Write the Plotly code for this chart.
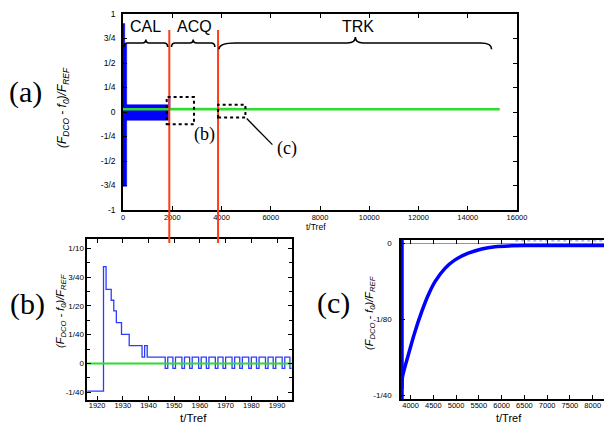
import plotly.graph_objects as go

W, H = 604, 425

# ---------------- data: panel (a) ----------------
a_xticks = [0, 2000, 4000, 6000, 8000, 10000, 12000, 14000, 16000]
a_xticktext = ['0', '2000', '4000', '6000', '8000', '10000', '12000', '14000', '16000']
a_yticks = [-1, -0.75, -0.5, -0.25, 0, 0.25, 0.5, 0.75, 1]
a_yticktext = ['-1', '-3/4', '-1/2', '-1/4', '0', '1/4', '1/2', '3/4', '1']

cal_spike_t = [0, 150]
cal_spike_range = [-0.758, 0.698]
cal_peak_t = [0, 70]
cal_peak_range = [0.0, 0.902]
cal_band_t = [0, 1850]
cal_band_range = [-0.085, 0.075]
acq_spike_t = [1880, 1880]
acq_spike_v = [0.017, 0.147]
acq_trace_t = [1880, 4600]
acq_trace_v = [0.036, 0.036]
ref_a_t = [0, 15300]
ref_a_v = [0.028, 0.028]
phase_edges = [1880, 3860]
brace_names = ['CAL', 'ACQ', 'TRK']
brace_spans = [(40, 1815), (1970, 3730), (3900, 14970)]
box_b = (1775, 2883, -0.126, 0.153)
box_c = (3862, 4971, -0.057, 0.075)
leader_t = [5024, 6068]
leader_v = [-0.067, -0.333]

# ---------------- data: panel (b) ----------------
b_t = [1916, 1922.5, 1923.5, 1925.5, 1926.5, 1927.5, 1929.5, 1932.5, 1937.5,
       1938.5, 1939.5,
       1946.5, 1947.5, 1949.5, 1950.5, 1953, 1954, 1956, 1957, 1959.5, 1960.5,
       1962.5, 1963.5, 1966, 1967, 1969, 1970, 1972.5, 1973.5, 1975.5, 1976.5,
       1979, 1980, 1982, 1983, 1985.5, 1986.5, 1988.5, 1989.5, 1992, 1993,
       1995, 1996]
b_v = [-0.024, 0.084, 0.0644, 0.0549, 0.0456, 0.0354, 0.0253, 0.0155, 0.0056,
       0.0155, 0.0056,
       -0.0042, 0.0056, -0.0042, 0.0056, -0.0042, 0.0056, -0.0042, 0.0056,
       -0.0042, 0.0056, -0.0042, 0.0056, -0.0042, 0.0056, -0.0042, 0.0056,
       -0.0042, 0.0056, -0.0042, 0.0056, -0.0042, 0.0056, -0.0042, 0.0056,
       -0.0042, 0.0056, -0.0042, 0.0056, -0.0042, 0.0056, -0.0042, 0.0056]
b_ref_t = [1916, 1996]
b_ref_v = [0.0, 0.0]
b_xticks = [1920, 1930, 1940, 1950, 1960, 1970, 1980, 1990]
b_yticks = [-0.025, 0, 0.025, 0.05, 0.075, 0.1]
b_yticktext = ['-1/40', '0', '1/40', '1/20', '3/40', '1/10']
b_minor = [-0.0125, 0.0125, 0.0375, 0.0625, 0.0875]

# ---------------- data: panel (c) ----------------
c_jump_t = [3812, 3812]
c_jump_v = [-0.0257, 0.0006]
c_t = [3812, 3819, 3950, 4097, 4245, 4389, 4537, 4756, 4976, 5268, 5562, 5854,
       6221, 6513, 7000, 7500, 8250]
c_v = [-0.0240, -0.0222, -0.0184, -0.01455, -0.01125, -0.0085, -0.0063, -0.0041,
       -0.0027, -0.0016, -0.0009, -0.00053, -0.00038, -0.00033, -0.00033,
       -0.00033, -0.00033]
c_noise_t = [6300, 8250]
c_noise_v = [0.00045, 0.00045]
c_ref_t = [3790, 8250]
c_ref_v = [0.0, 0.0]
c_xticks = [4000, 4500, 5000, 5500, 6000, 6500, 7000, 7500, 8000]
c_xticktext = ['4000', '4500', '5000', '5500', '6000', '6500', '7000', '7500', '8000']
c_yticks = [-0.025, -0.0125, 0]
c_yticktext = ['-1/40', '-1/80', '0']
c_rticks = [0, -1/280, -2/280, -3/280, -4/280, -5/280, -6/280, -7/280]

BLUE = '#0000ff'
GREEN = '#2edc2e'
RED = '#ff3c14'
SANS = 'Liberation Sans, Arial, sans-serif'
SERIF = 'Liberation Serif, Times New Roman, serif'


def px(xp):
    return xp / W


def py(yp):
    return 1 - yp / H


def rect(t, r):
    return [t[0], t[1], t[1], t[0], t[0]], [r[0], r[0], r[1], r[1], r[0]]


fig = go.Figure()

# panel (a) traces
for tt, rr in [(cal_band_t, cal_band_range), (cal_spike_t, cal_spike_range), (cal_peak_t, cal_peak_range)]:
    x, y = rect(tt, rr)
    fig.add_trace(go.Scatter(x=x, y=y, fill='toself', fillcolor=BLUE, line=dict(color=BLUE, width=0.5),
                             mode='lines', xaxis='x', yaxis='y'))
fig.add_trace(go.Scatter(x=acq_spike_t, y=acq_spike_v, mode='lines',
                         line=dict(color=BLUE, width=2), xaxis='x', yaxis='y'))
fig.add_trace(go.Scatter(x=acq_trace_t, y=acq_trace_v, mode='lines',
                         line=dict(color='#8c9cff', width=1.5), xaxis='x', yaxis='y'))
fig.add_trace(go.Scatter(x=ref_a_t, y=ref_a_v, mode='lines',
                         line=dict(color=GREEN, width=2.5), xaxis='x', yaxis='y'))

# panel (b)
fig.add_trace(go.Scatter(x=b_t, y=b_v, mode='lines', line=dict(color='#2a3cff', width=1.3, shape='hv'),
                         xaxis='x2', yaxis='y2'))
fig.add_trace(go.Scatter(x=b_ref_t, y=b_ref_v, mode='lines', line=dict(color=GREEN, width=2),
                         xaxis='x2', yaxis='y2'))

# panel (c)
fig.add_trace(go.Scatter(x=c_ref_t, y=c_ref_v, mode='lines', line=dict(color=GREEN, width=1.2),
                         xaxis='x3', yaxis='y3'))
fig.add_trace(go.Scatter(x=c_noise_t, y=c_noise_v, mode='lines', line=dict(color='#8c9cff', width=1.2, dash='dot'),
                         xaxis='x3', yaxis='y3'))
fig.add_trace(go.Scatter(x=c_t, y=c_v, mode='lines', line=dict(color=BLUE, width=3.5, shape='spline'),
                         xaxis='x3', yaxis='y3'))
fig.add_trace(go.Scatter(x=c_jump_t, y=c_jump_v, mode='lines', line=dict(color=BLUE, width=3.5),
                         xaxis='x3', yaxis='y3'))

ax_common = dict(showline=True, linecolor='black', linewidth=1.6, ticks='inside', ticklen=4,
                 tickcolor='black', tickwidth=1, showgrid=False, zeroline=False,
                 tickfont=dict(family=SANS, size=7.5, color='black'))

fig.update_layout(
    width=W, height=H, margin=dict(l=0, r=0, t=0, b=0, autoexpand=False),
    paper_bgcolor='white', plot_bgcolor='white', showlegend=False,
    xaxis=dict(ax_common, domain=[px(123), px(517)], range=[0, 16000], anchor='y',
               tickvals=a_xticks, ticktext=a_xticktext, mirror='ticks', ticklabelstandoff=-1),
    yaxis=dict(ax_common, domain=[py(210), py(14)], range=[-1, 1], anchor='x',
               tickvals=a_yticks, ticktext=a_yticktext, mirror='ticks', ticklabelstandoff=4,
               tickfont=dict(family=SANS, size=8.5, color='black')),
    xaxis2=dict(ax_common, domain=[px(87.3), px(291.7)], range=[1916.2, 1995.7], anchor='y2',
                tickvals=b_xticks, mirror='ticks', ticklabelstandoff=-3),
    yaxis2=dict(ax_common, domain=[py(400), py(239.3)], range=[-0.0317, 0.1078], anchor='x2',
                tickvals=b_yticks, ticktext=b_yticktext, mirror='ticks',
                minor=dict(tickvals=b_minor, ticks='inside', ticklen=3, tickcolor='black'),
                tickfont=dict(family=SANS, size=8, color='black')),
    xaxis3=dict(ax_common, domain=[px(401), 1.0], range=[3790, 8248], anchor='y3',
                tickvals=c_xticks, ticktext=c_xticktext, mirror='ticks', ticklabelstandoff=-2,
                tickfont=dict(family=SANS, size=7.5, color='black')),
    yaxis3=dict(ax_common, domain=[py(399), py(240)], range=[-0.02566, 0.00058], anchor='x3',
                tickvals=c_yticks, ticktext=c_yticktext, mirror=True, ticklabelstandoff=6,
                tickfont=dict(family=SANS, size=8, color='black')),
    yaxis4=dict(overlaying='y3', side='right', anchor='x3', range=[-0.02566, 0.00058],
                tickvals=c_rticks, showticklabels=False, ticks='inside', ticklen=3,
                tickcolor='black', showgrid=False, zeroline=False, showline=False),
)

shapes = []
for t in phase_edges:
    shapes.append(dict(type='line', xref='x', yref='paper', x0=t, x1=t, y0=py(243), y1=py(30),
                       line=dict(color=RED, width=2)))

brace_geo = [  # (bar level, tip level, end level, start hook, end hook, mid width)
    (0.704, 0.739, 0.663, 150, 150, 140),
    (0.704, 0.739, 0.663, 150, 150, 140),
    (0.704, 0.765, 0.640, 650, 450, 320),
]
for (x0, x1), (yb, yt, ye, d0, d1, dm) in zip(brace_spans, brace_geo):
    xm = (x0 + x1) / 2
    path = (f'M {x0},{ye} Q {x0},{yb} {x0 + d0},{yb} L {xm - dm},{yb} '
            f'Q {xm},{yb} {xm},{yt} Q {xm},{yb} {xm + dm},{yb} '
            f'L {x1 - d1},{yb} Q {x1},{yb} {x1},{ye}')
    shapes.append(dict(type='path', xref='x', yref='y', path=path,
                       line=dict(color='black', width=1.6)))

for bx in (box_b, box_c):
    shapes.append(dict(type='rect', xref='x', yref='y', x0=bx[0], x1=bx[1], y0=bx[2], y1=bx[3],
                       line=dict(color='black', width=2, dash='dot')))
shapes.append(dict(type='line', xref='x', yref='y', x0=leader_t[0], x1=leader_t[1],
                   y0=leader_v[0], y1=leader_v[1], line=dict(color='black', width=1.3)))
fig.update_layout(shapes=shapes)

C = dict(showarrow=False, xanchor='center', yanchor='middle')
ann = []
label_pos = [(925, 0.868), (2900, 0.868), (9536, 0.868)]
for name, (tx, ty) in zip(brace_names, label_pos):
    ann.append(dict(C, text=name, x=tx, y=ty, xref='x', yref='y',
                    font=dict(family=SANS, size=16, color='black')))
ann.append(dict(C, text='(b)', x=3318, y=-0.228, xref='x', yref='y',
                font=dict(family=SERIF, size=18, color='black')))
ann.append(dict(C, text='(c)', x=6648, y=-0.373, xref='x', yref='y',
                font=dict(family=SERIF, size=18, color='black')))
for txt, xp_, yp_ in [('(a)', 25.5, 92), ('(b)', 27, 304), ('(c)', 333, 303)]:
    ann.append(dict(C, text=txt, x=px(xp_), y=py(yp_), xref='paper', yref='paper',
                    font=dict(family=SERIF, size=30, color='black')))

ytitle = '<i>(F<sub>DCO</sub> - f<sub>0</sub>)/F<sub>REF</sub></i>'
for xp_, yp_, sz in [(63, 108, 12), (61, 311, 11), (370, 313, 11)]:
    ann.append(dict(C, text=ytitle, x=px(xp_), y=py(yp_), xref='paper', yref='paper',
                    textangle=-90, font=dict(family=SANS, size=sz, color='black')))
for xp_, yp_, sz in [(316, 227, 8.5), (194, 418, 11.5), (509, 418, 11)]:
    ann.append(dict(C, text='t/Tref', x=px(xp_), y=py(yp_), xref='paper', yref='paper',
                    font=dict(family=SANS, size=sz, color='black')))
fig.update_layout(annotations=ann)

fig.write_html('out.html', config={'displayModeBar': False},
               post_script="document.body.style.margin='0';document.body.style.padding='0';")
